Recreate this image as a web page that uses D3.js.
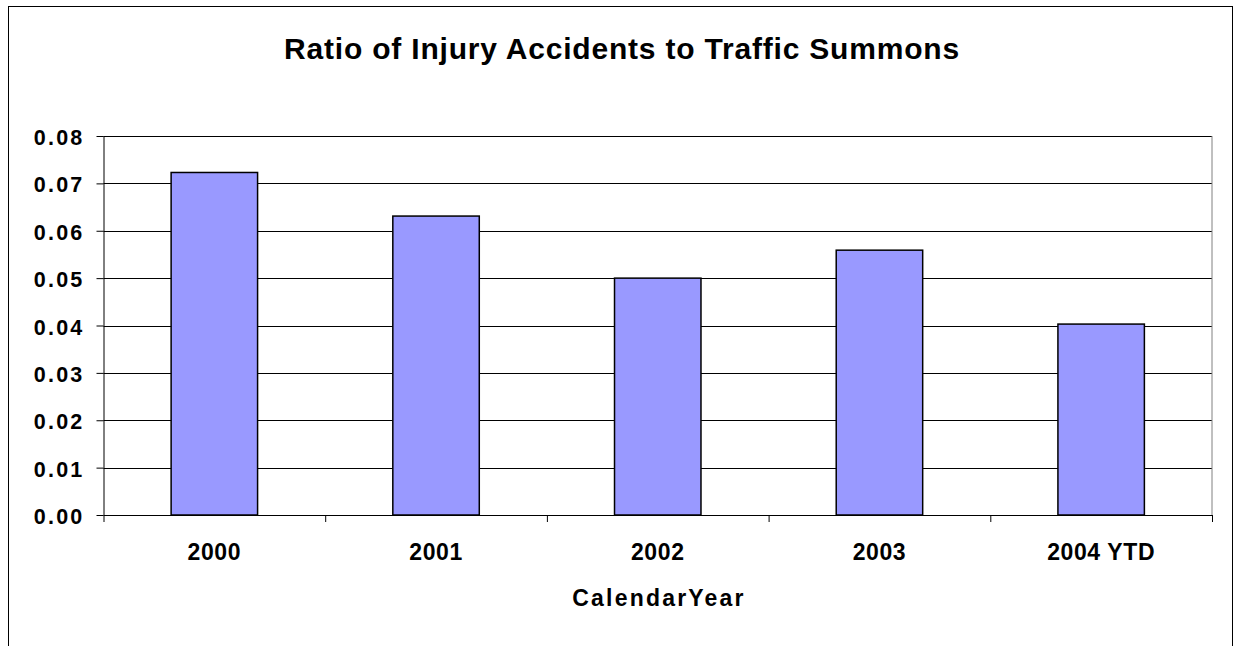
<!DOCTYPE html>
<html>
<head>
<meta charset="utf-8">
<script src="https://cdn.jsdelivr.net/npm/d3@7"></script>
<style>
  body { margin: 0; background: #fff; }
  svg text { font-family: "Liberation Sans", Arial, sans-serif; font-weight: bold; fill: #000; }
</style>
</head>
<body>
<div id="chart"></div>
<script>
var years = ["2000", "2001", "2002", "2003", "2004 YTD"];
var ratios = [0.0723, 0.0631, 0.0500, 0.0559, 0.0403];
var yTicks = [0, 0.01, 0.02, 0.03, 0.04, 0.05, 0.06, 0.07, 0.08];

function draw_chart(element) {
    var svg = d3.select("#" + element).append("svg").attr("width", 1235).attr("height", 646),
        margin = {top: 136, right: 23, bottom: 131, left: 103.5},
        width = +svg.attr("width") - margin.left - margin.right,
        height = +svg.attr("height") - margin.top - margin.bottom;

    // outer frame
    svg.append("rect")
        .attr("x", 8.5).attr("y", 6.5)
        .attr("width", 1224).attr("height", 660)
        .attr("fill", "none").attr("stroke", "#000").attr("stroke-width", 1);

    svg.append("text")
        .attr("x", 622).attr("y", 58.5)
        .attr("text-anchor", "middle")
        .style("font-size", "30px")
        .style("letter-spacing", "0.8px")
        .text("Ratio of Injury Accidents to Traffic Summons");

    var x = d3.scaleBand().domain(years).range([0, width]).padding(0);
    var y = d3.scaleLinear().domain([0, 0.08]).range([height, 0]);

    var g = svg.append("g")
        .attr("transform", "translate(" + margin.left + "," + margin.top + ")");

    // gridlines
    g.selectAll(".grid")
        .data(yTicks.slice(1))
        .enter().append("line")
        .attr("x1", 0).attr("x2", width)
        .attr("y1", function (d) { return Math.round(y(d)) + 0.5; })
        .attr("y2", function (d) { return Math.round(y(d)) + 0.5; })
        .attr("stroke", "#000").attr("stroke-width", 1);

    // plot area right edge
    g.append("line")
        .attr("x1", width).attr("x2", width)
        .attr("y1", 0).attr("y2", height)
        .attr("stroke", "#808080").attr("stroke-width", 1);

    var barW = x.step() * 0.39;
    g.selectAll(".bar")
        .data(ratios)
        .enter().append("rect")
        .attr("class", "bar")
        .attr("x", function (d, i) { return x(years[i]) + (x.bandwidth() - barW) / 2; })
        .attr("y", function (d) { return y(d); })
        .attr("width", barW)
        .attr("height", function (d) { return height - y(d); })
        .attr("fill", "#9999FF")
        .attr("stroke", "#000")
        .attr("stroke-width", 1.5);

    // y axis
    var yAxis = g.append("g")
        .call(d3.axisLeft(y).tickValues(yTicks).tickSize(7).tickPadding(12).tickFormat(d3.format(".2f")));
    yAxis.select(".domain").attr("stroke", "#000").attr("d", "M0.5," + height + "V0");
    yAxis.selectAll("text")
        .style("font-size", "21.5px")
        .style("letter-spacing", "2.2px")
        .attr("dy", "0.4em");

    // x axis
    var xAxis = g.append("g").attr("transform", "translate(0," + height + ")");
    xAxis.append("line")
        .attr("x1", 0).attr("x2", width).attr("y1", 0.5).attr("y2", 0.5)
        .attr("stroke", "#000");
    xAxis.selectAll(".tk")
        .data(d3.range(years.length + 1))
        .enter().append("line")
        .attr("x1", function (i) { return i * x.step() + 0.5; })
        .attr("x2", function (i) { return i * x.step() + 0.5; })
        .attr("y1", 0).attr("y2", 7)
        .attr("stroke", "#000");
    xAxis.selectAll(".lbl")
        .data(years)
        .enter().append("text")
        .attr("x", function (d) { return x(d) + x.bandwidth() / 2; })
        .attr("y", 44.5)
        .attr("text-anchor", "middle")
        .style("font-size", "23px")
        .style("letter-spacing", "0.6px")
        .text(function (d) { return d; });

    svg.append("text")
        .attr("x", 659).attr("y", 605.5)
        .attr("text-anchor", "middle")
        .style("font-size", "23px")
        .style("letter-spacing", "2.2px")
        .text("CalendarYear");
}

draw_chart("chart");
</script>
</body>
</html>
